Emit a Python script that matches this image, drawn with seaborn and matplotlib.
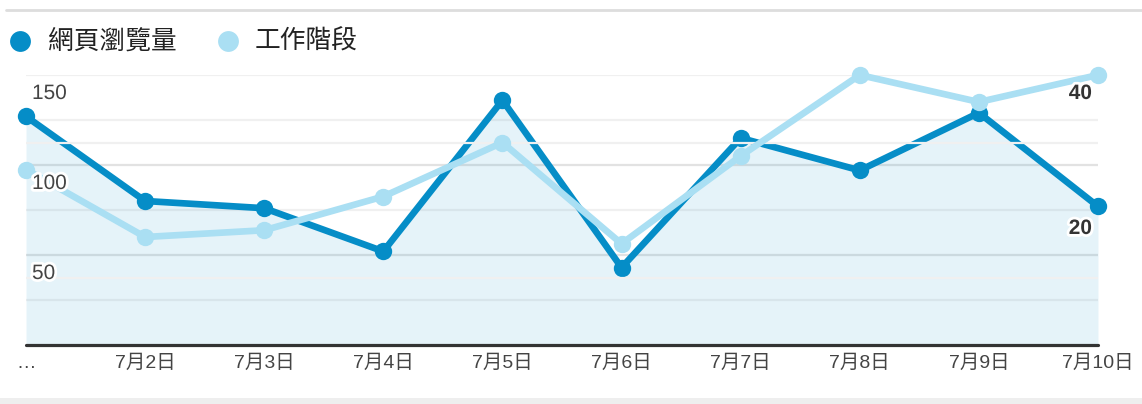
import matplotlib
matplotlib.use("Agg")
import matplotlib.pyplot as plt
import matplotlib.patheffects as pe
from matplotlib.lines import Line2D
from matplotlib.patches import Rectangle
from matplotlib.transforms import offset_copy
import seaborn as sns
import pandas as pd

# -----------------------------
# data
# -----------------------------
dates = ["…", "7月2日", "7月3日", "7月4日", "7月5日", "7月6日", "7月7日", "7月8日", "7月9日", "7月10日"]
pageviews = [127, 80, 76, 52, 136, 43, 115, 97, 129, 77]      # 網頁瀏覽量, left axis
sessions = [26, 16, 17, 22, 30, 15, 28, 40, 36, 40]            # 工作階段, right axis
left_ticks = [50, 100, 150]
right_ticks = [20, 40]
series_names = ["網頁瀏覽量", "工作階段"]

DARK = "#058dc7"
LIGHT = "#aadff3"
W, H = 1142, 404

sns.set_style("white")
plt.rcParams["font.family"] = ["Liberation Sans", "Noto Sans CJK TC", "DejaVu Sans"]

df = pd.DataFrame({"idx": range(len(dates)), "pv": pageviews, "ss": sessions})

fig = plt.figure(figsize=(W / 100, H / 100), dpi=100)
ax = fig.add_axes([26 / W, (H - 345) / H, (1098 - 26) / W, (345 - 75) / H])
ax2 = ax.twinx()

ax.set_xlim(0, len(dates) - 1)
ax.set_ylim(0, 150)
ax2.set_ylim(0, 40)

# gridlines: left axis every 25, right axis every 10
for v in [25, 75, 125, 150]:
    ax.axhline(v, color="#f0f0f0", lw=1.6, zorder=0)
for v in [50, 100]:
    ax.axhline(v, color="#e2e2e2", lw=1.6, zorder=0)
for v in [10, 30]:
    ax2.axhline(v, color="#f0f0f0", lw=1.6, zorder=0)

# area under page views
ax.fill_between(df["idx"], df["pv"], 0, color=DARK, alpha=0.1, lw=0, zorder=1)

sns.lineplot(data=df, x="idx", y="pv", ax=ax, color=DARK, lw=4.8,
             marker="o", markersize=12.5, markeredgewidth=0, clip_on=False, zorder=3)
sns.lineplot(data=df, x="idx", y="ss", ax=ax2, color=LIGHT, lw=4.8,
             marker="o", markersize=12.5, markeredgewidth=0, clip_on=False, zorder=3)

ax.axhline(0, color="#333333", lw=2.3, zorder=4, clip_on=False)

for a in (ax, ax2):
    for s in a.spines.values():
        s.set_visible(False)
    a.set_xlabel("")
    a.set_ylabel("")
    a.set_yticks([])

ax.set_xticks(range(len(dates)))
ax.set_xticklabels(dates, fontsize=14, color="#444444")
ax.tick_params(axis="x", length=0, pad=7)
ax2.tick_params(axis="x", length=0)

halo = [pe.withStroke(linewidth=4, foreground="white")]

# left axis labels sit inside the plot, just below their gridline (drawn on top of both lines)
lt = offset_copy(ax.get_yaxis_transform(), fig=fig, x=6, y=-9, units="dots")
for v in left_ticks:
    ax2.text(0, v, str(v), transform=lt, ha="left", va="top", fontsize=15,
             color="#444444", path_effects=halo, zorder=5)

rt = offset_copy(ax2.get_yaxis_transform(), fig=fig, x=-6, y=-9, units="dots")
for v in right_ticks:
    ax2.text(1, v, str(v), transform=rt, ha="right", va="top", fontsize=15,
             fontweight="bold", color="#333333", path_effects=halo, zorder=5)

# legend drawn by hand, like the GA header
for cx, tx, col, name in [(20, 48, DARK, series_names[0]), (228, 255, LIGHT, series_names[1])]:
    fig.add_artist(Line2D([cx / W], [(H - 41) / H], marker="o", markersize=15,
                          color=col, markeredgewidth=0, transform=fig.transFigure))
    fig.text(tx / W, (H - 41) / H, name, fontsize=18.5, color="#222222",
             ha="left", va="center")

# card frame: top rule and bottom band
fig.add_artist(Line2D([6 / W, 1], [(H - 10) / H] * 2, color="#dddddd", lw=2,
                      transform=fig.transFigure))
fig.add_artist(Rectangle((0, 0), 1, 6 / H, color="#eeeeee", lw=0,
                         transform=fig.transFigure))

fig.savefig("out.png", dpi=100)
